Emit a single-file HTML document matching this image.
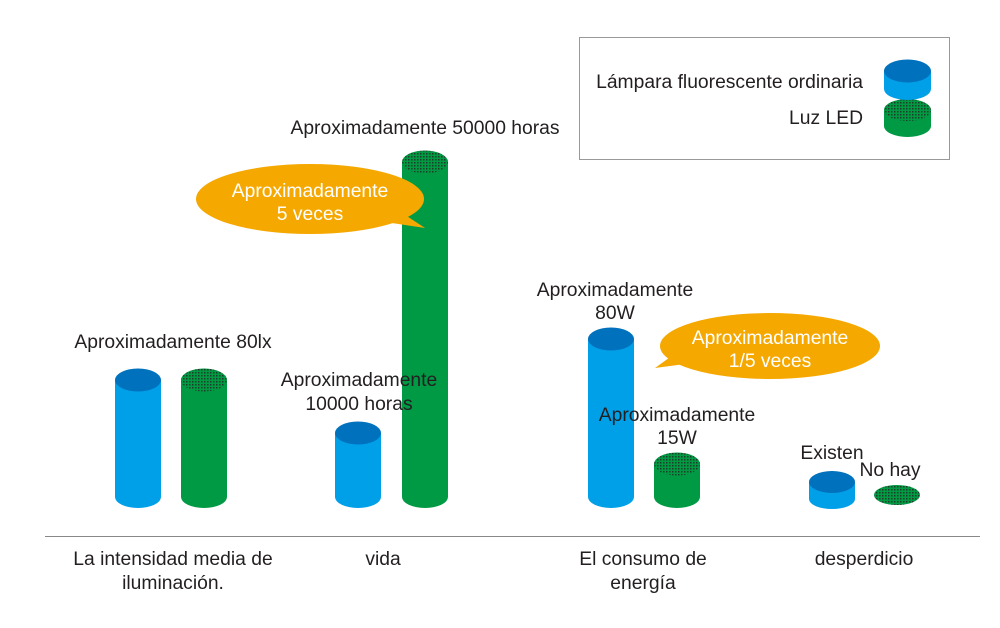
<!DOCTYPE html>
<html><head><meta charset="utf-8"><style>
html,body{margin:0;padding:0;background:#fff;}
svg{display:block;font-family:"Liberation Sans",sans-serif;}
text{font-size:19.3px;fill:#231f20;}
.w{fill:#fff;}
</style></head><body>
<svg width="1000" height="628" viewBox="0 0 1000 628" xmlns="http://www.w3.org/2000/svg">
<defs>
<pattern id="dots" width="3" height="3" patternUnits="userSpaceOnUse">
<rect width="3" height="3" fill="#009a44"/>
<rect width="1.5" height="1.5" fill="#1f3a28"/>
</pattern>
</defs>
<rect x="579.5" y="37.5" width="370" height="122" fill="#fff" stroke="#999" stroke-width="1"/>
<text x="863" y="88" text-anchor="end">Lámpara fluorescente ordinaria</text>
<text x="863" y="124" text-anchor="end">Luz LED</text>
<rect x="884" y="110" width="47" height="16" fill="#009a44"/>
<ellipse cx="907.5" cy="126" rx="23.5" ry="11" fill="#009a44"/>
<ellipse cx="907.5" cy="110" rx="23.5" ry="11" fill="url(#dots)"/>
<rect x="884" y="71" width="47" height="18" fill="#00a0e9"/>
<ellipse cx="907.5" cy="89" rx="23.5" ry="11" fill="#00a0e9"/>
<ellipse cx="907.5" cy="71" rx="23.5" ry="11.5" fill="#0071bc"/>

<rect x="115" y="380" width="46" height="117" fill="#00a0e9"/>
<ellipse cx="138" cy="497" rx="23" ry="11" fill="#00a0e9"/>
<ellipse cx="138" cy="380" rx="23" ry="11.5" fill="#0071bc"/>
<rect x="181" y="380" width="46" height="117" fill="#009a44"/>
<ellipse cx="204" cy="497" rx="23" ry="11" fill="#009a44"/>
<ellipse cx="204" cy="380" rx="23" ry="11.5" fill="url(#dots)"/>
<text x="173" y="348" text-anchor="middle">Aproximadamente 80lx</text>

<rect x="335" y="433" width="46" height="64" fill="#00a0e9"/>
<ellipse cx="358" cy="497" rx="23" ry="11" fill="#00a0e9"/>
<ellipse cx="358" cy="433" rx="23" ry="11.5" fill="#0071bc"/>
<rect x="402" y="162" width="46" height="335" fill="#009a44"/>
<ellipse cx="425" cy="497" rx="23" ry="11" fill="#009a44"/>
<ellipse cx="425" cy="162" rx="23" ry="11.5" fill="url(#dots)"/>
<text x="359" y="386" text-anchor="middle">Aproximadamente</text>
<text x="359" y="410" text-anchor="middle">10000 horas</text>
<text x="425" y="134" text-anchor="middle">Aproximadamente 50000 horas</text>
<path d="M390 205 L425 228 L385 222 Z" fill="#f5a800"/>
<ellipse cx="310" cy="199" rx="114" ry="35" fill="#f5a800"/>
<text class="w" x="310" y="197" text-anchor="middle">Aproximadamente</text>
<text class="w" x="310" y="220" text-anchor="middle">5 veces</text>

<rect x="588" y="339" width="46" height="158" fill="#00a0e9"/>
<ellipse cx="611" cy="497" rx="23" ry="11" fill="#00a0e9"/>
<ellipse cx="611" cy="339" rx="23" ry="11.5" fill="#0071bc"/>
<rect x="654" y="464" width="46" height="33" fill="#009a44"/>
<ellipse cx="677" cy="497" rx="23" ry="11" fill="#009a44"/>
<ellipse cx="677" cy="464" rx="23" ry="11.5" fill="url(#dots)"/>
<text x="615" y="296" text-anchor="middle">Aproximadamente</text>
<text x="615" y="319" text-anchor="middle">80W</text>
<text x="677" y="421" text-anchor="middle">Aproximadamente</text>
<text x="677" y="444" text-anchor="middle">15W</text>
<path d="M680 350 L655 368 L700 362 Z" fill="#f5a800"/>
<ellipse cx="770" cy="346" rx="110" ry="33" fill="#f5a800"/>
<text class="w" x="770" y="344" text-anchor="middle">Aproximadamente</text>
<text class="w" x="770" y="367" text-anchor="middle">1/5 veces</text>

<rect x="809" y="482" width="46" height="17" fill="#00a0e9"/>
<ellipse cx="832" cy="499" rx="23" ry="10" fill="#00a0e9"/>
<ellipse cx="832" cy="482" rx="23" ry="11" fill="#0071bc"/>
<ellipse cx="897" cy="495" rx="23" ry="10" fill="url(#dots)"/>
<text x="832" y="459" text-anchor="middle">Existen</text>
<text x="890" y="476" text-anchor="middle">No hay</text>

<line x1="45" y1="536.5" x2="980" y2="536.5" stroke="#888" stroke-width="1"/>
<text x="173" y="565" text-anchor="middle">La intensidad media de</text>
<text x="173" y="589" text-anchor="middle">iluminación.</text>
<text x="383" y="565" text-anchor="middle">vida</text>
<text x="643" y="565" text-anchor="middle">El consumo de</text>
<text x="643" y="589" text-anchor="middle">energía</text>
<text x="864" y="565" text-anchor="middle">desperdicio</text>
</svg>
</body></html>
